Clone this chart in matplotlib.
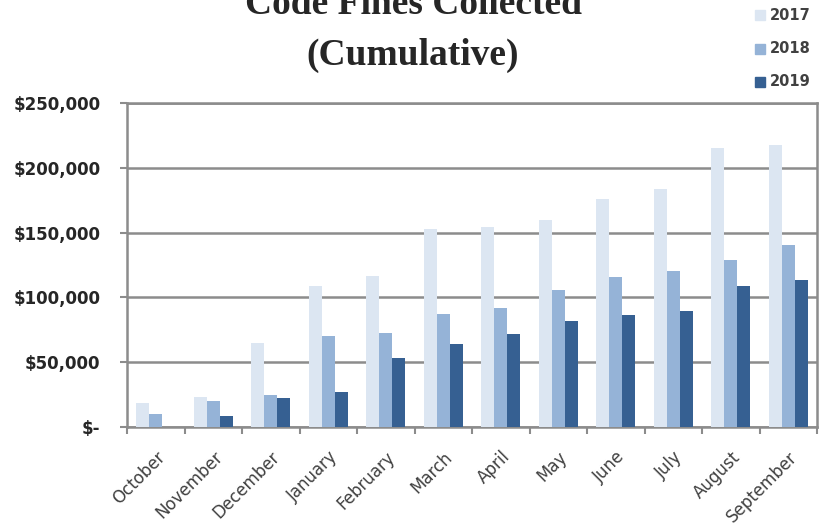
import matplotlib
matplotlib.use("Agg")
import matplotlib.pyplot as plt
import numpy as np
from matplotlib.patches import Rectangle

months = ["October", "November", "December", "January", "February", "March",
          "April", "May", "June", "July", "August", "September"]
years = ["2017", "2018", "2019"]
v2017 = [18300, 23400, 64600, 109000, 116800, 153000, 154000, 159500, 176000, 183400, 215300, 217600]
v2018 = [10000, 20300, 24400, 70200, 72800, 87200, 92000, 105700, 115500, 120000, 129000, 140400]
v2019 = [0, 8700, 22600, 27300, 53000, 63800, 71800, 82000, 86400, 89300, 109000, 113700]
yticks = [0, 50000, 100000, 150000, 200000, 250000]
ytick_labels = ["$-", "$50,000", "$100,000", "$150,000", "$200,000", "$250,000"]
colors = ["#DCE6F2", "#95B3D7", "#366092"]

fig = plt.figure(figsize=(8.24, 5.27), dpi=100)
ax = fig.add_axes([127/824, 1-427/527, (817-127)/824, (427-103)/527])

x = np.arange(len(months))
w = 0.225
for k, (vals, c) in enumerate(zip([v2017, v2018, v2019], colors)):
    ax.bar(x + (k-1)*w, vals, width=w, color=c, zorder=3, linewidth=0)

ax.set_xlim(-0.5, len(months)-0.5)
ax.set_ylim(0, 250000)
ax.set_yticks(yticks)
ax.set_yticklabels(ytick_labels, fontsize=12, fontweight="bold", color="#262626")
ax.yaxis.grid(True, color="#8c8c8c", linewidth=1.8, zorder=0)
ax.tick_params(axis="y", length=5, width=1.5, color="#8c8c8c", pad=14)

ax.set_xticks(x)
ax.set_xticklabels(months, rotation=45, ha="right", rotation_mode="anchor",
                   fontsize=12, color="#404040")
ax.tick_params(axis="x", which="major", length=0, pad=15)
ax.set_xticks(np.arange(-0.5, len(months)), minor=True)
ax.tick_params(axis="x", which="minor", length=5, width=1.5, color="#8c8c8c")

for s in ax.spines.values():
    s.set_color("#8c8c8c")
    s.set_linewidth(1.8)

fig.text(413/824, 1-4/527, "Code Fines Collected", ha="center", va="center",
         fontsize=27, fontweight="bold", family="Liberation Serif", color="#262626")
fig.text(413/824, 1-55/527, "(Cumulative)", ha="center", va="center",
         fontsize=27, fontweight="bold", family="Liberation Serif", color="#262626")

for i, (yr, c) in enumerate(zip(years, colors)):
    yc = 15 + i*33.5
    fig.patches.append(Rectangle((755/824, 1-(yc+5)/527), 10/824, 10/527,
                                 transform=fig.transFigure, color=c, figure=fig))
    fig.text(770/824, 1-yc/527, yr, ha="left", va="center", fontsize=10.5,
             fontweight="bold", color="#404040")

fig.savefig("out.png", dpi=100)
